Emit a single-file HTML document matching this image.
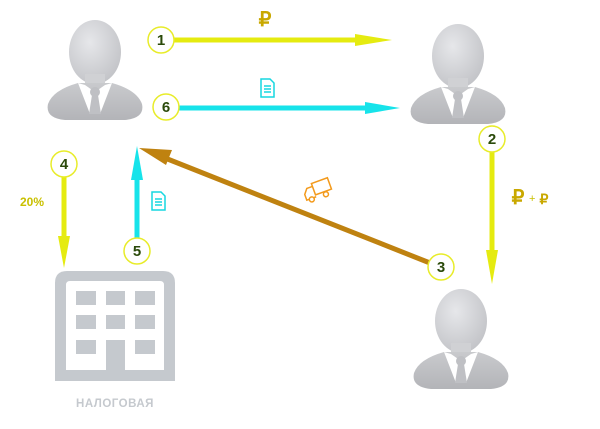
<!DOCTYPE html>
<html><head><meta charset="utf-8"><style>
html,body{margin:0;padding:0;background:#fff;width:600px;height:429px;overflow:hidden}
svg{display:block}
text{font-family:"Liberation Sans",sans-serif}
</style></head><body>
<svg width="600" height="429" viewBox="0 0 600 429" xmlns="http://www.w3.org/2000/svg">
<defs>
<radialGradient id="hg" cx="0.4" cy="0.35" r="0.7"><stop offset="0" stop-color="#e6e7ea"/><stop offset="1" stop-color="#c2c3c7"/></radialGradient>
<linearGradient id="bg" x1="0" y1="0" x2="0" y2="1"><stop offset="0" stop-color="#c9cacd"/><stop offset="1" stop-color="#b3b4b8"/></linearGradient>
<g id="p">
<ellipse cx="0" cy="0" rx="26" ry="32" fill="url(#hg)"/>
<rect x="-10" y="22" width="20" height="14" fill="#d0d1d4"/>
<path d="M-17 31 Q-42 38 -47 52 Q-50 66 -30 68 L30 68 Q50 66 47 52 Q42 38 17 31 Z" fill="url(#bg)"/>
<path d="M-17 31 L-5 62 L0 44 L5 62 L17 31 L10 33 L0 40 L-10 33 Z" fill="#fff"/>
<circle cx="0" cy="40" r="5" fill="#bfc0c4"/>
<path d="M-3 43 L3 43 L6 62 L-6 62 Z" fill="#bfc0c4"/>
</g>
</defs>
<use href="#p" x="95" y="52"/>
<use href="#p" x="458" y="56"/>
<use href="#p" x="461" y="321"/>

<line x1="174" y1="40" x2="360" y2="40" stroke="#e5eb10" stroke-width="5"/>
<polygon points="355,34 392,40 355,46" fill="#e5eb10"/>
<text x="265" y="26" font-size="20" font-weight="bold" fill="#c9a800" text-anchor="middle">₽</text>
<line x1="179" y1="108" x2="370" y2="108" stroke="#17e3ea" stroke-width="5"/>
<polygon points="365,102 400,108 365,114" fill="#17e3ea"/>
<g transform="translate(260,78)" fill="none" stroke="#17d7e0" stroke-width="1.5"><path d="M1 1 H10 L14 5 V19 H1 Z"/><path d="M4 8H11M4 11H11M4 14H11"/></g>
<line x1="492" y1="152" x2="492" y2="255" stroke="#e5eb10" stroke-width="5"/>
<polygon points="486,250 492,284 498,250" fill="#e5eb10"/>
<text x="518" y="204" font-size="20" font-weight="bold" fill="#c9a800" text-anchor="middle">₽</text>
<text x="529" y="202" font-size="11" fill="#c9c000">+</text>
<text x="544" y="204" font-size="14" font-weight="bold" fill="#c9a800" text-anchor="middle">₽</text>
<line x1="430" y1="263" x2="165" y2="158" stroke="#bf8210" stroke-width="5"/>
<polygon points="139,148 172,150 166,165" fill="#bf8210"/>
<g transform="translate(302,187) rotate(-20)" fill="none" stroke="#f39a1c" stroke-width="1.5"><rect x="10" y="0" width="17" height="12"/><path d="M10 3 H4 L0 8 V14 H10"/><circle cx="5" cy="15" r="2.5" fill="#fff"/><circle cx="20" cy="15" r="2.5" fill="#fff"/></g>
<line x1="64" y1="177" x2="64" y2="240" stroke="#e5eb10" stroke-width="5"/>
<polygon points="58,236 64,268 70,236" fill="#e5eb10"/>
<text x="20" y="206" font-size="12" font-weight="bold" fill="#c9c000">20%</text>
<line x1="137" y1="238" x2="137" y2="175" stroke="#17e3ea" stroke-width="5"/>
<polygon points="131,180 137,146 143,180" fill="#17e3ea"/>
<g transform="translate(151,191)" fill="none" stroke="#17d7e0" stroke-width="1.5"><path d="M1 1 H10 L14 5 V19 H1 Z"/><path d="M4 8H11M4 11H11M4 14H11"/></g>

<g fill="#fff" stroke="#e8ec2a" stroke-width="1.5">
<circle cx="161" cy="40" r="13"/><circle cx="166" cy="107" r="13"/><circle cx="492" cy="139" r="13"/>
<circle cx="441" cy="267" r="13"/><circle cx="64" cy="164" r="13"/><circle cx="137" cy="251" r="13"/></g>
<g font-size="15" font-weight="bold" fill="#2b4a0a" text-anchor="middle" style="font-family:'Liberation Serif',serif">
<text x="161" y="45">1</text><text x="166" y="112">6</text><text x="492" y="144">2</text>
<text x="441" y="272">3</text><text x="64" y="169">4</text><text x="137" y="256">5</text></g>

<path d="M55 381 V283 Q55 271 67 271 H163 Q175 271 175 283 V381 Z" fill="#c5c9ce"/>
<path d="M66 370 V285 Q66 281 70 281 H160 Q164 281 164 285 V370 H125 V340 H106 V370 Z" fill="#fff"/>
<g fill="#c5c9ce">
<rect x="76" y="291" width="20" height="14"/><rect x="106" y="291" width="19" height="14"/><rect x="135" y="291" width="20" height="14"/>
<rect x="76" y="315" width="20" height="14"/><rect x="106" y="315" width="19" height="14"/><rect x="135" y="315" width="20" height="14"/>
<rect x="76" y="340" width="20" height="14"/><rect x="135" y="340" width="20" height="14"/></g>
<text x="115" y="407" font-size="11.5" font-weight="bold" fill="#c5c9ce" text-anchor="middle" letter-spacing="0.5">НАЛОГОВАЯ</text>
</svg>
</body></html>
